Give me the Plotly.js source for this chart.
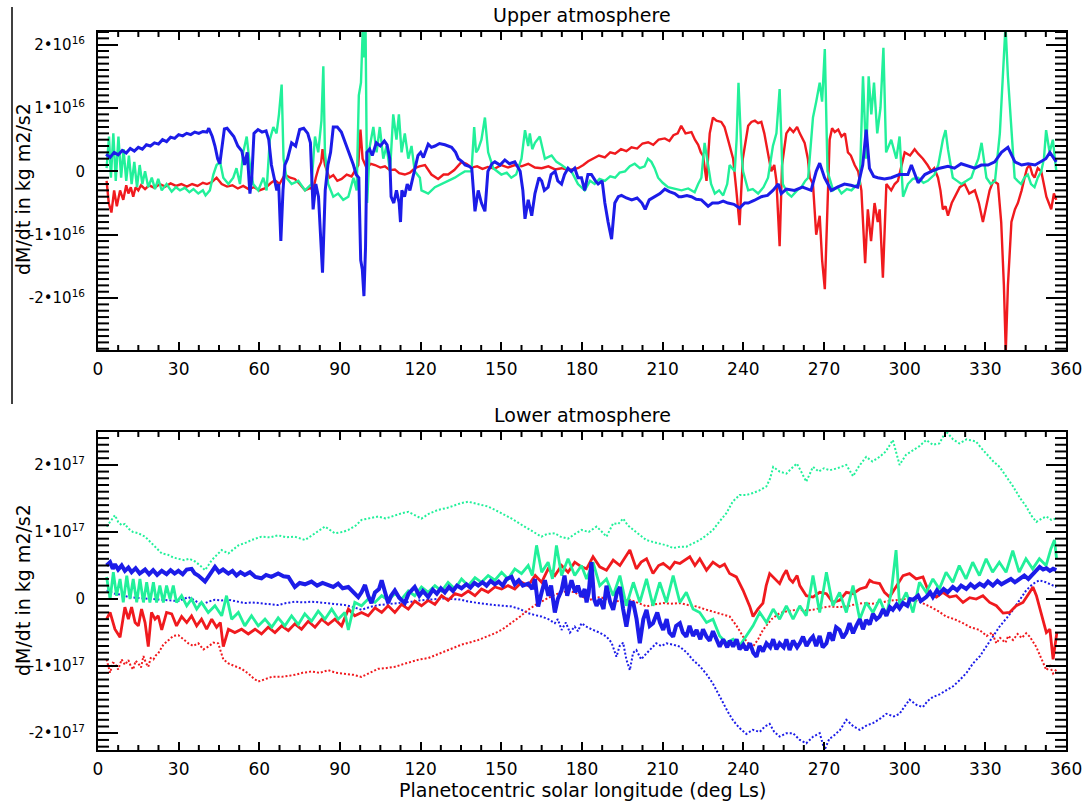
<!DOCTYPE html>
<html><head><meta charset="utf-8">
<script src="https://cdn.plot.ly/plotly-3.0.1.min.js"></script>
<style>html,body{margin:0;padding:0;background:#fff}#chart{width:1084px;height:805px}</style>
</head><body><div id="chart"></div>
<script>
// ---------- axis labels ----------
const lsTicks = [0,30,60,90,120,150,180,210,240,270,300,330,360];
const upperTickVals = [-2,-1,0,1,2];
const upperTickText = ['-2\u202210<sup>16</sup>','-1\u202210<sup>16</sup>','0','1\u202210<sup>16</sup>','2\u202210<sup>16</sup>'];
const lowerTickVals = [-2,-1,0,1,2];
const lowerTickText = ['-2\u202210<sup>17</sup>','-1\u202210<sup>17</sup>','0','1\u202210<sup>17</sup>','2\u202210<sup>17</sup>'];
const upperTitle = 'Upper atmosphere';
const lowerTitle = 'Lower atmosphere';
const yTitle = 'dM/dt in kg m2/s2';
const xTitle = 'Planetocentric solar longitude (deg Ls)';

// ---------- data: [Ls (deg), dM/dt] ; upper in 1e16, lower in 1e17 kg m2/s2 ----------
const upperRed = [[3.2,-0.15],[4,-0.5],[5,-0.65],[6,-0.3],[7,-0.55],[8.2,-0.3],[9.4,-0.45],[10.5,-0.22],[11.3,-0.35],[12.2,-0.25],[13.1,-0.4],[14,-0.25],[15,-0.3],[16,-0.22],[17.5,-0.28],[19,-0.22],[21,-0.26],[23,-0.2],[25,-0.24],[27,-0.19],[29,-0.23],[31,-0.2],[33,-0.24],[35,-0.2],[37,-0.23],[39,-0.18],[40.5,-0.2],[42.3,-0.17],[44.1,-0.1],[46,-0.2],[48,-0.24],[50,-0.22],[52,-0.27],[54,-0.23],[56,-0.28],[58,-0.25],[60,-0.3],[62,-0.27],[64.4,-0.18],[65.8,-0.14],[67.5,-0.2],[69.5,-0.05],[71.5,-0.1],[73.2,-0.12],[75,-0.2],[77,-0.3],[79,-0.26],[80,-0.3],[81,-0.1],[82,0.05],[83,0.15],[83.5,0.35],[84.4,0.1],[86,-0.1],[87.5,-0.06],[89,-0.15],[90.6,-0.12],[92.5,-0.05],[94.3,-0.08],[95.5,0.0],[96.8,0.1],[97.6,0.66],[98.4,0.2],[99.9,0.05],[101.5,0.12],[103,0.1],[105,0.06],[106.7,0.08],[108.5,0.02],[110.4,0.03],[112,-0.03],[114.1,-0.05],[116,-0.02],[117.8,0.05],[119.5,0.08],[121.6,0.1],[124,-0.05],[126.5,-0.12],[128.5,-0.05],[130.2,-0.05],[132.5,0.02],[135.2,0.15],[137,0.12],[138.9,0.06],[141,0.08],[143,0.04],[145,0.07],[147.5,0.04],[150,0.1],[152.5,0.06],[155,0.1],[157.5,0.08],[160,0.12],[162.5,0.06],[165,0.05],[167.5,0.08],[170,0.03],[172.4,0.05],[175,0.02],[178.5,0.05],[180.5,0.1],[182.3,0.16],[184.3,0.2],[186.3,0.25],[188.5,0.22],[190.5,0.3],[192.3,0.28],[194.5,0.35],[196.5,0.32],[198.4,0.38],[200.5,0.36],[202.5,0.44],[204.6,0.46],[206.5,0.42],[208.5,0.5],[210.8,0.52],[212.5,0.48],[214,0.57],[215.6,0.6],[216.9,0.72],[218.5,0.6],[220.7,0.62],[222,0.5],[223.2,0.42],[224.2,0.3],[225,0.25],[226.3,-0.15],[227.5,0.6],[228.7,0.85],[230,0.8],[231.8,0.78],[233,0.7],[234.3,0.5],[235.3,0.35],[236.2,0.2],[237.4,-0.3],[238.6,-0.85],[239.8,0.2],[241.8,0.72],[243,0.78],[244.3,0.8],[245.5,0.76],[246.7,0.78],[247.8,0.6],[248.6,0.4],[249.5,0.2],[250.4,0.0],[251.5,0.1],[252.3,-0.15],[253.5,-1.18],[254.4,0.1],[256,0.6],[257.3,0.68],[258.6,0.62],[260,0.7],[261,0.6],[262.8,0.45],[264,0.2],[264.7,-0.1],[265.9,-0.2],[267.1,-1.0],[268.4,-0.7],[269.3,-1.4],[270.3,-1.86],[271.3,-0.5],[272.1,0.5],[273,0.68],[274,0.62],[275.3,0.66],[276.5,0.55],[277.8,0.6],[278.9,0.3],[280,0.25],[281.4,0.1],[282.7,0.0],[283.9,-0.3],[285.3,-1.45],[286.3,-0.6],[287.5,-1.1],[288.8,-0.5],[290,-0.8],[290.7,-0.6],[291.9,-1.68],[293.2,-0.2],[295,-0.3],[296.3,-0.2],[297.5,-0.15],[299,0.1],[300,0.3],[302,0.25],[303.7,0.35],[305,0.28],[306.8,0.2],[308.5,0.1],[309.9,0.0],[311,0.05],[312.4,-0.1],[313.3,-0.3],[314.2,-0.6],[315.2,-0.55],[316.1,-0.7],[317.5,-0.5],[318.6,-0.4],[320.5,-0.25],[322.3,-0.2],[324,-0.35],[326.1,-0.3],[327.6,-0.5],[329.1,-0.8],[330.5,-0.5],[331.6,-0.3],[333,-0.15],[334.7,-0.2],[335.9,-0.8],[336.9,-1.8],[337.6,-2.85],[338.4,-1.8],[339.7,-0.8],[341,-0.6],[342.1,-0.5],[343.5,-0.3],[344.6,-0.1],[345.5,0.05],[346.5,0.1],[347.5,-0.05],[348.3,-0.1],[349.5,0.05],[350.8,0.0],[351.8,-0.2],[352.7,-0.4],[353.6,-0.5],[354.5,-0.6],[355.5,-0.35],[356.4,-0.45]];

const upperGreen = [[3.2,0.05],[4.1,0.55],[4.8,-0.1],[5.7,0.6],[6.6,-0.15],[7.6,0.55],[8.6,-0.1],[9.5,0.35],[10.5,-0.15],[11.5,0.25],[12.5,-0.2],[13.5,0.15],[14.5,-0.25],[15.5,0.1],[16.5,-0.2],[17.5,0.0],[18.7,-0.25],[20,-0.1],[21.2,-0.28],[22.4,-0.12],[23.7,-0.3],[25.5,-0.2],[27.4,-0.32],[29,-0.25],[30.5,-0.3],[32.3,-0.26],[34,-0.33],[35.5,-0.28],[37.3,-0.35],[39,-0.3],[40,-0.38],[41.6,-0.3],[42.9,-0.05],[44.1,0.1],[45.4,0.15],[46.6,-0.1],[48.5,-0.2],[50.3,-0.1],[51.5,0.05],[52.8,-0.2],[54,0.3],[55.3,0.55],[56.5,0.1],[57.7,-0.2],[59.6,-0.3],[61.5,-0.1],[62.7,-0.3],[63.9,0.5],[65.2,0.7],[66.4,0.6],[67.3,0.9],[68.3,1.37],[69,0.2],[70.1,-0.1],[72,-0.2],[74.5,-0.15],[77,-0.3],[79.4,-0.2],[80.7,0.55],[81.9,0.3],[83.1,0.8],[83.8,1.66],[84.4,0.3],[85.6,-0.2],[87.5,-0.4],[89.3,-0.35],[91.2,-0.45],[93.1,-0.4],[95,-0.1],[96.2,-0.3],[97,1.2],[97.8,1.4],[98.5,2.3],[99,1.8],[99.5,2.3],[100.1,-0.5],[101.1,0.4],[102.4,0.7],[103.6,0.3],[104.8,0.7],[106.1,0.2],[107.3,0.4],[108.6,0.0],[109.8,0.9],[111,0.5],[111.9,0.9],[112.9,0.3],[114.1,0.6],[115.4,0.2],[116.6,0.4],[117.8,0.0],[119.7,-0.1],[120.3,-0.3],[122.8,-0.35],[125.3,-0.25],[127.9,-0.2],[130.3,-0.15],[132.7,-0.1],[134.5,-0.05],[136.4,0.0],[138.9,0.0],[139.9,0.7],[140.6,0.3],[141.4,0.35],[142.6,0.5],[143.9,0.85],[145.1,0.3],[147,0.05],[150,-0.05],[152,-0.02],[153.7,-0.1],[155.5,-0.05],[157.5,0.2],[158.8,0.65],[160,0.4],[160.6,0.6],[161.5,0.35],[162.5,0.45],[164.3,0.55],[166.2,0.2],[168.7,0.25],[170.5,0.15],[172.4,0.1],[174,0.05],[176.1,0.0],[178.5,-0.2],[181,-0.3],[183,-0.15],[184.7,-0.2],[186.5,-0.12],[188.5,-0.15],[190.5,-0.08],[192.3,-0.1],[194,-0.02],[196,0.0],[197.8,0.08],[199.6,0.12],[201.5,0.05],[203.3,0.08],[204.5,0.2],[205.8,0.15],[207,0.05],[208.3,-0.1],[210,-0.18],[212,-0.25],[214.5,-0.28],[217,-0.3],[219.5,-0.27],[221.9,-0.33],[223.2,-0.2],[224.4,-0.1],[225.6,0.45],[226.9,0.1],[228,-0.2],[229.4,-0.35],[231,-0.3],[232.5,-0.38],[234,-0.2],[234.9,0.1],[236.8,0.0],[237.5,0.5],[238.2,1.4],[239.3,0.3],[239.9,0.0],[241.8,-0.3],[243.5,-0.28],[245.5,-0.35],[247.5,-0.25],[249.2,-0.1],[251,0.4],[252.3,0.6],[253.5,1.3],[254.7,-0.2],[256.5,-0.35],[257.9,-0.4],[260,-0.3],[261.6,-0.25],[263,-0.15],[264.1,-0.1],[265.9,0.85],[267.1,1.1],[268.4,1.4],[269.3,1.1],[270.3,1.93],[271.3,0.0],[273.4,-0.3],[275,-0.25],[276.5,-0.35],[278.5,-0.28],[280.2,-0.3],[282,-0.22],[283.3,-0.2],[284.5,1.5],[285.7,0.2],[286.6,1.5],[287.6,0.9],[288.6,1.4],[289.8,0.6],[291,1.0],[292.1,1.95],[293.1,0.3],[295,0.5],[296.9,0.2],[298.1,0.55],[299.4,-0.4],[301.2,-0.2],[303,-0.12],[305,-0.1],[307,-0.18],[308.6,-0.15],[311.1,-0.05],[312.5,0.1],[314.2,0.5],[315.2,0.65],[316.1,0.35],[317.9,-0.1],[319.5,-0.15],[321.1,-0.2],[323,-0.15],[324.8,-0.1],[326,0.05],[327.4,0.2],[328.6,0.45],[330.4,-0.1],[332,-0.2],[333.6,-0.15],[335.4,0.6],[336.6,1.6],[337.5,2.3],[338.4,1.5],[339.4,0.9],[340.9,-0.1],[342,-0.15],[343.3,-0.2],[344.5,-0.1],[345.8,-0.05],[347,-0.2],[348.3,-0.25],[349.5,-0.1],[350.8,0.0],[351.8,0.2],[352.6,0.65],[353.9,0.3],[355.1,0.5],[356.4,0.0]];

const upperBlue = [[3,0.27],[4.5,0.22],[6,0.3],[7.5,0.26],[9,0.33],[10.5,0.29],[12,0.36],[13.5,0.32],[15,0.38],[16.5,0.35],[18,0.42],[19.5,0.4],[21,0.45],[22.5,0.43],[24,0.5],[25.5,0.47],[27,0.54],[28.5,0.52],[30,0.58],[31.5,0.56],[33,0.6],[34.5,0.58],[36,0.62],[37.5,0.6],[39,0.63],[40.5,0.62],[41.2,0.68],[42.5,0.55],[43.5,0.4],[44.5,0.2],[45.3,0.12],[46.2,0.4],[47,0.67],[48,0.68],[49,0.62],[50.5,0.55],[52,0.4],[53.5,0.32],[54.5,0.1],[55.5,0.3],[56.5,-0.35],[57.2,-0.1],[58,0.6],[59.5,0.66],[61,0.62],[62.5,0.64],[63.5,0.5],[64.5,0.1],[65.5,-0.1],[66.5,-0.3],[67.2,-0.2],[68,-1.1],[68.8,-0.3],[69.5,0.1],[70.5,0.2],[72,0.45],[73.5,0.4],[75,0.66],[76.5,0.68],[78,0.6],[79,0.45],[80,-0.6],[81,-0.2],[82,-0.4],[83.5,-1.6],[84.5,-0.3],[85.5,0.1],[86.5,0.3],[87.5,0.7],[89,0.7],[90.5,0.62],[92,0.45],[93.5,0.3],[95,0.1],[96,-0.05],[97,-0.1],[97.7,-1.4],[98.3,-1.55],[98.9,-1.97],[99.5,-1.2],[100,0.3],[101,0.35],[102,0.25],[103.5,0.45],[105,0.4],[106.5,0.48],[107.5,0.42],[108.5,0.2],[109,-0.4],[110,-0.5],[111,-0.3],[112,-0.5],[112.5,-0.8],[113,-0.3],[114,-0.4],[115,-0.2],[116,-0.3],[117,-0.1],[118,0.1],[119,0.25],[120,0.3],[121,0.22],[122.8,0.43],[124,0.38],[125.3,0.4],[127,0.44],[129,0.42],[130.5,0.4],[131.5,0.38],[133,0.3],[134,0.2],[135.5,0.15],[136.5,0.1],[138,0.08],[139,0.05],[140.2,-0.63],[141.4,-0.3],[142.6,-0.5],[143.9,-0.63],[145,0.0],[146.5,0.12],[147.6,0.15],[149.5,0.1],[151.3,0.18],[153,0.12],[155,0.15],[156,0.08],[157,0.0],[158,-0.3],[158.8,-0.75],[160,-0.45],[161.3,-0.7],[162.5,-0.35],[164,-0.1],[165,-0.15],[166,-0.3],[167.4,-0.25],[168.5,-0.05],[170,0.0],[171,-0.15],[172.4,-0.2],[173.5,-0.05],[174.8,0.05],[176,0.0],[177.3,0.05],[178.5,-0.1],[179.8,-0.1],[181,-0.3],[182.2,-0.05],[183.5,-0.05],[185,-0.15],[186,-0.2],[187.5,-0.15],[188.5,-0.5],[189.7,-0.8],[191,-1.07],[192.2,-0.5],[193.5,-0.4],[194.7,-0.38],[196.5,-0.42],[198.5,-0.45],[200.5,-0.42],[202.3,-0.5],[203.5,-0.6],[205,-0.45],[207.2,-0.4],[209,-0.35],[210.8,-0.28],[212.5,-0.32],[214.5,-0.35],[216,-0.4],[217,-0.4],[219,-0.38],[220.7,-0.4],[222.5,-0.44],[224.4,-0.45],[225.5,-0.5],[226.9,-0.55],[228.5,-0.5],[230.6,-0.5],[232.5,-0.47],[234.3,-0.5],[236.5,-0.52],[238.6,-0.58],[240.5,-0.5],[241.8,-0.5],[244,-0.46],[246.7,-0.4],[249,-0.38],[251,-0.3],[253,-0.2],[254.1,-0.35],[256,-0.28],[259,-0.3],[262,-0.25],[265.2,-0.3],[267.1,0.0],[268.4,0.13],[270.2,-0.1],[272.7,-0.3],[275,-0.25],[277.6,-0.2],[280,-0.22],[282.5,-0.25],[284.4,0.1],[285.7,0.66],[286.9,0.05],[288.5,-0.08],[290,-0.1],[292.5,-0.12],[295,-0.1],[298,-0.05],[301.2,-0.05],[302.5,0.1],[305,-0.18],[307.5,-0.05],[309.9,0.0],[313,0.05],[316.1,0.08],[318.5,0.05],[321,0.12],[323.5,0.08],[326.1,0.05],[328.5,0.1],[331,0.1],[333.5,0.15],[336,0.3],[338.4,0.38],[341,0.15],[343.5,0.1],[345.9,0.12],[348.5,0.1],[350.8,0.15],[352.5,0.2],[354,0.3],[356.4,0.15]];

const lowerGreenDot = [[3.2,1.08],[4.5,1.15],[6.3,1.25],[7.5,1.15],[8.8,1.1],[10,1.12],[11.3,1.05],[13,1.0],[15,0.98],[17.5,0.93],[19.5,0.85],[21.2,0.78],[23.7,0.68],[26,0.66],[28,0.62],[29.9,0.6],[32,0.58],[34,0.6],[36.1,0.56],[38,0.5],[39.8,0.43],[41,0.5],[42.3,0.58],[44,0.65],[46,0.73],[48.5,0.68],[50.5,0.75],[52.2,0.8],[55,0.84],[57.1,0.88],[60.8,0.93],[64,0.92],[67,0.95],[70,0.92],[73.2,0.93],[77,0.88],[80.7,0.98],[84.4,1.08],[88.1,0.98],[91,1.0],[93.1,1.03],[96,1.1],[98,1.18],[101,1.2],[104.2,1.23],[107,1.2],[110.4,1.25],[113,1.28],[115.4,1.3],[118,1.25],[120.3,1.2],[123,1.27],[126.5,1.33],[130,1.36],[132.7,1.4],[135,1.43],[137.7,1.45],[140,1.43],[142.6,1.4],[145,1.38],[147.6,1.33],[150.5,1.27],[153.8,1.2],[157,1.12],[160,1.05],[162.5,0.98],[164.9,0.93],[167,0.97],[169.9,0.98],[172,0.93],[174.8,0.9],[177,0.96],[179.8,1.03],[182.5,1.0],[185.4,1.08],[187,1.02],[189.1,0.93],[191.6,1.13],[193.5,1.12],[195.3,1.2],[197,1.1],[199.1,1.03],[201.5,0.95],[203.9,0.88],[206.5,0.85],[208.9,0.83],[211.5,0.8],[213.9,0.76],[216.5,0.78],[218.8,0.78],[221.3,0.83],[223.8,0.88],[226.3,0.95],[228.7,1.03],[231,1.15],[233.7,1.28],[236,1.45],[238.6,1.55],[241,1.55],[243.6,1.58],[246,1.62],[248.6,1.68],[250,1.8],[251.1,1.97],[253.5,1.9],[256,1.87],[258,1.95],[259.9,2.02],[261.5,1.9],[263.4,1.75],[265.9,1.97],[268,1.9],[270,1.95],[272.1,1.92],[275,1.95],[278.3,2.0],[280.8,1.83],[283,1.98],[285.7,2.12],[288,2.05],[290.7,2.12],[293,2.2],[295.6,2.37],[298.1,2.0],[300.5,2.15],[303,2.22],[305.5,2.28],[308,2.37],[310.5,2.3],[312.9,2.32],[315.4,2.5],[318,2.38],[320.3,2.32],[323,2.38],[326.5,2.35],[328.5,2.25],[330.3,2.17],[333,2.05],[335.3,1.97],[338,1.82],[340.3,1.68],[343,1.5],[345.2,1.38],[347,1.25],[349,1.15],[351,1.2],[352.7,1.23],[354.5,1.18],[356.4,1.2]];

const lowerBlueDot = [[3.2,0.13],[6.3,0.08],[9,0.06],[11.3,0.03],[14,0.02],[17.5,0.01],[20.5,0.0],[23.7,-0.01],[27,-0.02],[29.9,-0.03],[33.6,0.03],[36,-0.02],[38.5,-0.09],[41,-0.04],[43.5,-0.01],[46,-0.02],[48.5,-0.01],[51.5,-0.04],[54.6,-0.06],[57.5,-0.05],[60.8,-0.06],[64,-0.07],[67,-0.09],[70,-0.06],[73.2,-0.04],[76.5,-0.05],[79.4,-0.04],[82.5,-0.05],[85.6,-0.06],[88.5,-0.08],[91.8,-0.09],[95,-0.12],[98,-0.16],[101,-0.12],[104.2,-0.09],[107,-0.08],[110.4,-0.06],[113.5,-0.05],[116.6,-0.04],[119.5,-0.02],[122.8,-0.01],[126,0.0],[129,0.01],[132,0.0],[135.2,-0.01],[138,-0.04],[141.4,-0.06],[144.5,-0.08],[147.6,-0.09],[150.5,-0.1],[153.8,-0.11],[157,-0.15],[160,-0.21],[162.5,-0.24],[164.9,-0.26],[167.5,-0.3],[169.9,-0.36],[171,-0.3],[172.4,-0.46],[174,-0.35],[175.5,-0.5],[177.3,-0.41],[178.5,-0.48],[179.8,-0.36],[182,-0.42],[184.1,-0.46],[186.5,-0.5],[189.1,-0.56],[191,-0.65],[192.8,-0.86],[194,-0.7],[195.3,-0.65],[196.5,-0.9],[197.8,-1.06],[199,-0.8],[200.2,-0.76],[202,-0.9],[204,-0.81],[206,-0.72],[207.6,-0.66],[209.5,-0.7],[211.4,-0.66],[214,-0.68],[216.4,-0.71],[219,-0.8],[221.3,-0.91],[223.8,-1.0],[226.3,-1.12],[228.7,-1.26],[230.5,-1.4],[232.5,-1.56],[234.5,-1.7],[236.2,-1.81],[238.5,-1.92],[241.1,-2.01],[243.5,-1.95],[246.1,-1.98],[248,-1.9],[249.8,-1.86],[251.5,-1.98],[253.5,-2.05],[256,-2.0],[258.5,-2.0],[261,-2.1],[263.4,-2.15],[266,-2.05],[268.4,-2.0],[270.2,-2.25],[272,-2.08],[273.3,-2.05],[276,-1.95],[278.3,-1.8],[281,-1.9],[283.3,-1.95],[286,-1.88],[288.2,-1.85],[291,-1.78],[293.2,-1.71],[296,-1.75],[298.1,-1.71],[300,-1.6],[301.8,-1.5],[304.5,-1.58],[306.8,-1.61],[308.5,-1.52],[310.5,-1.46],[313,-1.42],[315.4,-1.36],[318,-1.3],[320.4,-1.21],[323,-1.1],[325.4,-0.96],[328,-0.85],[330.3,-0.71],[333,-0.55],[335.3,-0.41],[338,-0.28],[340.3,-0.16],[343,0.0],[345.2,0.13],[347.5,0.22],[350.1,0.28],[352.5,0.25],[355,0.2],[356.4,0.18]];

const lowerRedDot = [[3.2,-0.9],[4.5,-1.1],[5.5,-0.95],[6.3,-0.96],[7.5,-1.05],[8.8,-0.9],[10,-0.98],[11.3,-0.91],[12.2,-1.0],[13.1,-1.05],[14,-0.92],[15,-0.96],[16,-1.02],[16.9,-0.85],[17.8,-0.95],[18.7,-1.01],[19.6,-0.88],[20.6,-0.9],[21.5,-0.84],[22.4,-0.81],[24.3,-0.68],[26.2,-0.61],[28,-0.55],[29.9,-0.54],[31.7,-0.6],[33.6,-0.66],[35.4,-0.7],[37.3,-0.66],[39.2,-0.75],[41,-0.71],[42.9,-0.65],[44.7,-0.66],[46.6,-0.9],[48.5,-0.96],[50.9,-1.0],[53.4,-1.04],[55.9,-1.11],[57.8,-1.18],[59.6,-1.23],[62.1,-1.2],[64.6,-1.16],[68.3,-1.16],[73.2,-1.13],[76,-1.1],[79.4,-1.08],[82.5,-1.1],[85.6,-1.06],[88.5,-1.1],[91.8,-1.11],[95,-1.13],[98,-1.16],[101,-1.1],[104.2,-1.04],[107,-1.03],[110.4,-1.01],[113.5,-0.97],[116.6,-0.93],[119.5,-0.9],[122.8,-0.88],[126,-0.83],[129,-0.78],[132,-0.73],[135.2,-0.68],[138,-0.65],[141.4,-0.61],[144.5,-0.56],[147.6,-0.51],[150.5,-0.45],[153.8,-0.36],[157,-0.26],[160,-0.16],[163,-0.08],[166.2,-0.01],[169,0.05],[172.4,0.1],[175,0.12],[177.3,0.1],[179.2,0.05],[182.9,-0.01],[186.6,0.03],[189,0.0],[191.6,-0.04],[195,-0.02],[197.8,-0.01],[201,-0.06],[204,-0.11],[207,-0.08],[210.2,-0.06],[213,-0.07],[216.4,-0.06],[219.5,-0.09],[222.6,-0.11],[225.5,-0.15],[228.7,-0.19],[231.5,-0.22],[234.9,-0.26],[237.5,-0.4],[239.9,-0.56],[241.8,-0.66],[243.6,-0.71],[245.5,-0.6],[247.3,-0.46],[250.5,-0.3],[253.5,-0.21],[256.5,-0.18],[259.9,-0.16],[263,-0.17],[265.9,-0.16],[269,-0.13],[272.1,-0.11],[275,-0.12],[278.3,-0.11],[281.5,-0.08],[284.5,-0.06],[287.5,-0.07],[290.7,-0.06],[293.7,-0.03],[296.8,-0.01],[300,0.0],[303.1,-0.01],[306,-0.05],[309.3,-0.11],[312.5,-0.18],[315.4,-0.26],[318.5,-0.3],[321.7,-0.36],[324.5,-0.42],[327.8,-0.46],[330.5,-0.55],[332.5,-0.5],[334.1,-0.66],[335.5,-0.58],[337.5,-0.65],[338.5,-0.55],[340.3,-0.61],[342,-0.52],[343.5,-0.58],[345.2,-0.51],[346.5,-0.56],[348.9,-0.71],[350.5,-0.85],[352.7,-1.06],[354,-1.0],[355.2,-1.11],[356.4,-1.05]];

const lowerRed = [[3.2,-0.3],[4.5,-0.2],[6.3,-0.45],[8.2,-0.57],[10,-0.12],[11.3,-0.3],[12.5,-0.12],[13.8,-0.35],[15,-0.4],[16.2,-0.15],[17.5,-0.35],[18.7,-0.71],[19.9,-0.2],[21.2,-0.3],[22.4,-0.25],[23.7,-0.46],[25.5,-0.2],[27.4,-0.22],[29.2,-0.4],[31.1,-0.26],[33,-0.35],[34.8,-0.25],[36.7,-0.4],[38.5,-0.3],[40.4,-0.45],[42.3,-0.3],[44.1,-0.42],[45.5,-0.35],[46.6,-0.71],[48.5,-0.45],[50.9,-0.5],[53.4,-0.45],[55.9,-0.52],[58.4,-0.45],[60.8,-0.52],[63.3,-0.42],[65.8,-0.5],[68.3,-0.4],[70.8,-0.47],[73.2,-0.37],[75.7,-0.45],[78.2,-0.33],[80.7,-0.42],[83.2,-0.3],[85.6,-0.38],[88.1,-0.3],[90.6,-0.4],[93.1,-0.15],[95.5,-0.25],[98,-0.2],[100.5,-0.25],[103,-0.13],[105.5,-0.2],[107.9,-0.1],[110.4,-0.2],[112.9,-0.08],[115.4,-0.15],[117.8,-0.03],[120.3,-0.1],[122.8,-0.02],[125.3,-0.08],[127.8,0.05],[130.2,-0.02],[132.7,0.08],[135.2,0.05],[137.7,0.12],[140.2,0.05],[142.6,0.15],[145.1,0.1],[147.6,0.18],[150.1,0.15],[152.5,0.2],[155,0.15],[157.5,0.25],[160,0.2],[162.6,0.35],[165,0.25],[167.4,0.45],[169.9,0.35],[172.4,0.5],[174.8,0.4],[177.3,0.55],[179.8,0.48],[181.7,0.45],[184.1,0.63],[186.6,0.48],[189.1,0.43],[191.6,0.58],[194.1,0.5],[195.5,0.58],[197.8,0.73],[200.2,0.45],[202,0.55],[204,0.6],[206.4,0.38],[208.5,0.5],[210.2,0.53],[212.7,0.45],[214.5,0.55],[216.4,0.53],[218.5,0.58],[220.1,0.63],[222,0.5],[223.8,0.6],[226.3,0.43],[228.7,0.55],[231.2,0.48],[233,0.52],[234.9,0.38],[237.4,0.33],[239.9,0.13],[241.2,0.0],[242.4,-0.11],[243.6,-0.26],[245.4,-0.15],[247.3,-0.06],[248.5,0.2],[249.8,0.38],[251.6,0.3],[253.5,0.23],[254.8,0.35],[256,0.43],[257.2,0.3],[258.4,0.25],[260,0.35],[261,0.2],[263.4,0.05],[265.9,0.03],[268.4,0.1],[270.9,0.08],[273.3,-0.05],[275.8,-0.02],[278.3,0.1],[280.8,0.08],[283.3,0.15],[285.7,0.18],[287,0.28],[288.2,0.25],[290.7,0.23],[292.5,0.1],[294.4,0.03],[296.8,0.18],[299.4,0.35],[301.8,0.38],[304.3,0.3],[306.8,0.33],[308,0.2],[309.2,0.08],[311.8,0.03],[314.2,0.1],[316.7,0.03],[319.2,0.05],[321.7,-0.05],[324.2,0.02],[326.6,0.0],[329.1,0.05],[331.6,-0.05],[334.1,-0.1],[336.6,-0.21],[339,-0.2],[341.5,-0.1],[344,-0.05],[346.5,0.1],[347.7,0.18],[349,0.05],[350.8,-0.2],[352.7,-0.5],[354,-0.45],[355.2,-0.9],[356.6,-0.5]];

const lowerGreen = [[3.2,0.33],[4.5,0.0],[5.7,0.4],[6.9,0.05],[8.2,0.3],[9.4,-0.05],[10.7,0.35],[11.9,0.0],[13.1,0.3],[14.4,-0.05],[15.6,0.3],[16.9,-0.05],[18.1,0.25],[19.3,-0.05],[20.6,0.25],[21.8,-0.05],[23,0.2],[24.3,-0.05],[25.5,0.2],[26.8,0.0],[28,0.2],[29.2,-0.05],[31.1,0.05],[33,-0.1],[34.8,0.0],[36.7,-0.15],[38.5,-0.05],[41,-0.2],[43.5,-0.1],[46,-0.25],[47.8,0.05],[49.7,-0.3],[52.2,-0.2],[54.6,-0.4],[57.1,-0.25],[59.6,-0.4],[62.1,-0.3],[64.6,-0.42],[67,-0.28],[69.5,-0.4],[72,-0.25],[74.5,-0.38],[76.9,-0.22],[79.4,-0.33],[81.9,-0.18],[84.4,-0.3],[86.9,-0.15],[89.3,-0.3],[91.8,-0.2],[93.1,-0.46],[95.5,-0.05],[98,-0.1],[100.5,0.0],[103,-0.05],[105.5,0.05],[107.9,-0.02],[110.4,0.08],[112.9,0.0],[115.4,0.12],[117.8,0.05],[120.3,0.18],[122.8,0.1],[125.3,0.2],[127.8,0.12],[130.2,0.25],[132.7,0.15],[135.2,0.3],[137.7,0.2],[140.2,0.32],[142.6,0.25],[145.1,0.35],[147.6,0.28],[150.1,0.4],[152.5,0.3],[155,0.45],[157.5,0.38],[160,0.5],[161.5,0.35],[163.1,0.8],[165,0.4],[167.4,0.55],[169,0.3],[170.5,0.8],[172.4,0.35],[174.8,0.6],[177.3,0.35],[179.8,0.5],[181.7,0.3],[184.1,0.55],[186.6,0.2],[189.1,0.3],[191.6,0.05],[194.1,0.35],[196.5,-0.1],[199.1,0.25],[201.5,-0.05],[204,0.3],[206.4,-0.1],[208.9,0.25],[211.4,-0.05],[213.9,0.35],[216.4,-0.05],[218.8,0.1],[221.3,-0.15],[223.8,-0.2],[226.3,-0.35],[228.7,-0.3],[231.2,-0.55],[233.7,-0.65],[236.2,-0.6],[238.6,-0.7],[241.1,-0.55],[243.6,-0.4],[246.1,-0.2],[248.6,-0.35],[251.1,-0.15],[253.5,-0.3],[256,-0.1],[258.5,-0.3],[261,-0.1],[263.4,-0.25],[265.9,0.35],[268.4,-0.2],[270.9,0.4],[273.3,-0.1],[275.8,0.1],[278.3,-0.2],[280.8,0.2],[283.3,-0.3],[285.7,-0.05],[288.2,-0.2],[290.7,0.0],[293.2,-0.25],[295,0.1],[296.8,0.73],[298.1,-0.1],[300.6,0.1],[303.1,-0.2],[305.5,0.25],[308,0.1],[310.5,0.3],[312.9,0.15],[315.4,0.4],[317.9,0.25],[320.3,0.5],[322.8,0.3],[325.3,0.55],[327.8,0.35],[330.3,0.6],[332.7,0.4],[335.2,0.55],[337.7,0.4],[340.2,0.72],[342.6,0.4],[345.1,0.6],[347.6,0.45],[350.1,0.6],[352.6,0.5],[354.4,0.75],[355.7,0.88],[356.5,0.6]];

const lowerBlue = [[3.2,0.5],[4.5,0.55],[5.5,0.45],[6.3,0.52],[7.5,0.44],[8.8,0.5],[10,0.42],[11.3,0.47],[12.5,0.4],[14,0.46],[15.5,0.38],[17.5,0.44],[19,0.37],[20.5,0.43],[22,0.36],[23.7,0.42],[25.5,0.37],[27,0.43],[28.5,0.38],[29.9,0.42],[31.5,0.37],[33,0.44],[34.8,0.45],[36,0.38],[37.3,0.35],[38.5,0.3],[39.8,0.26],[41,0.33],[42.3,0.4],[43.5,0.48],[45,0.4],[46.5,0.44],[48.5,0.38],[50,0.42],[51.5,0.35],[53,0.4],[54.6,0.36],[56.5,0.4],[58.5,0.33],[60.8,0.31],[62.5,0.36],[64.5,0.33],[67,0.38],[69,0.34],[70.8,0.33],[72,0.25],[73.2,0.18],[75,0.24],[77,0.22],[79.4,0.26],[81.5,0.2],[83.5,0.24],[85.6,0.21],[87.5,0.18],[89.3,0.23],[91,0.16],[93.1,0.18],[95,0.1],[96.8,0.03],[98,0.1],[99.3,0.21],[100.5,0.05],[101.7,-0.06],[103,0.1],[104.5,0.15],[105.5,0.28],[106.7,0.1],[107.9,-0.06],[109,0.05],[110.4,0.13],[112,0.02],[114.1,-0.06],[115.5,0.08],[117.8,0.18],[119.5,0.05],[120.8,0.12],[122.8,0.03],[124.5,0.14],[126,0.08],[127.5,0.16],[129,0.1],[130.5,0.18],[132,0.12],[133.5,0.2],[135.2,0.16],[137,0.22],[138.5,0.17],[140,0.24],[141.4,0.2],[143,0.25],[144.5,0.2],[146,0.27],[147.6,0.22],[149,0.26],[150.5,0.2],[152,0.3],[153.8,0.33],[155,0.22],[156.5,0.28],[158,0.2],[160,0.23],[161.5,0.15],[162.5,0.3],[163.7,-0.11],[165,0.1],[166.2,0.28],[167.5,0.05],[168.5,0.2],[169.9,-0.2],[171,0.0],[172.4,0.13],[173.5,0.35],[174.5,0.05],[176.1,0.28],[177.5,0.1],[178.5,0.2],[179.8,0.03],[181,0.15],[181.7,-0.05],[182.5,0.1],[183.5,0.55],[184.5,0.0],[185.4,-0.1],[186.6,0.0],[188,-0.15],[189.1,0.2],[190.5,-0.05],[191.6,-0.16],[193,0.1],[194.1,0.18],[195.3,-0.15],[196.5,-0.41],[198,-0.05],[199.1,-0.06],[200.3,-0.3],[201.5,-0.66],[202.8,-0.3],[204,-0.16],[205.2,-0.4],[206.4,-0.36],[208,-0.2],[209,-0.35],[210.2,-0.46],[211.5,-0.3],[212.5,-0.5],[213.9,-0.56],[215,-0.4],[216.4,-0.36],[217.5,-0.5],[218.8,-0.56],[220,-0.4],[221.3,-0.55],[222.6,-0.46],[224,-0.6],[225,-0.45],[226.3,-0.56],[227.5,-0.62],[228.7,-0.48],[230,-0.6],[231.2,-0.71],[232.5,-0.6],[234,-0.72],[235,-0.62],[236.2,-0.71],[237.5,-0.6],[238.6,-0.75],[240,-0.68],[241.1,-0.76],[242.5,-0.66],[243.7,-0.8],[244.9,-0.86],[246,-0.7],[247.3,-0.78],[248.6,-0.66],[250,-0.72],[251.1,-0.6],[252.3,-0.75],[253.5,-0.66],[255,-0.72],[256,-0.6],[257.2,-0.76],[258.5,-0.62],[260,-0.72],[261,-0.66],[262.2,-0.56],[263.5,-0.7],[265,-0.6],[265.9,-0.56],[267.1,-0.7],[268.4,-0.55],[269.5,-0.72],[270.9,-0.66],[272,-0.5],[273.3,-0.62],[274.5,-0.42],[275.8,-0.46],[277,-0.58],[278.3,-0.5],[279.5,-0.36],[280.8,-0.51],[282,-0.4],[283.3,-0.3],[284.5,-0.45],[285.7,-0.31],[287,-0.38],[288.2,-0.22],[289.5,-0.3],[290.7,-0.26],[292,-0.15],[293.2,-0.25],[294.5,-0.12],[295.6,-0.16],[297,-0.08],[298.1,-0.14],[299.4,-0.06],[301,-0.1],[302,0.0],[303.1,-0.01],[305,0.05],[306,-0.03],[308,0.03],[309.5,0.1],[310.5,0.03],[312,0.13],[312.9,0.08],[314.5,0.15],[316,0.1],[317.9,0.18],[319.5,0.13],[321,0.2],[322.9,0.15],[324.5,0.22],[326,0.17],[327.9,0.23],[329.5,0.19],[331,0.26],[332.8,0.2],[334.5,0.27],[336,0.22],[337.8,0.26],[339.5,0.3],[341,0.25],[342.8,0.31],[344.5,0.35],[346,0.3],[347.7,0.38],[349,0.42],[350.2,0.48],[351.5,0.44],[352.7,0.46],[354,0.42],[355.2,0.45],[356.4,0.43]];

// ---------- styling ----------
const RED = '#f01a1e', GREEN = '#22f09a', BLUE = '#1c1ce8';
const FONT = 'DejaVu Sans, Liberation Sans, sans-serif';
const UPPER_RANGE = [-2.82, 2.2], LOWER_RANGE = [-2.25, 2.49], LS_RANGE = [0, 360];

function line(pairs, color, xa, ya, dash, width) {
  return {
    type: 'scatter', mode: 'lines', xaxis: xa, yaxis: ya,
    x: pairs.map(p => p[0]), y: pairs.map(p => p[1]),
    line: {color: color, width: width, dash: dash || 'solid'},
    hoverinfo: 'skip', showlegend: false
  };
}

const traces = [
  line(upperRed, RED, 'x', 'y', 'solid', 2.4),
  line(upperGreen, GREEN, 'x', 'y', 'solid', 2.4),
  line(upperBlue, BLUE, 'x', 'y', 'solid', 3),
  line(lowerGreenDot, GREEN, 'x2', 'y2', '2px,2px', 2),
  line(lowerBlueDot, BLUE, 'x2', 'y2', '2px,2px', 2),
  line(lowerRedDot, RED, 'x2', 'y2', '2px,2px', 2),
  line(lowerRed, RED, 'x2', 'y2', 'solid', 2.8),
  line(lowerGreen, GREEN, 'x2', 'y2', 'solid', 2.8),
  line(lowerBlue, BLUE, 'x2', 'y2', 'solid', 4)
];

const common = {showline: true, linewidth: 2, linecolor: '#000', mirror: 'ticks', showgrid: false, zeroline: false,
  tickwidth: 2, tickcolor: '#000', ticks: 'inside', autorange: false};
function xAxis(anchor) {
  return Object.assign({}, common, {anchor: anchor, domain: [0, 1], range: LS_RANGE,
    tickmode: 'array', tickvals: lsTicks, ticktext: lsTicks.map(String), ticklen: 8,
    ticklabelstandoff: 3, tickfont: {family: FONT, size: 17, color: '#000'}});
}
function yAxis(anchor, domain, range, vals, text) {
  return Object.assign({}, common, {anchor: anchor, domain: domain, range: range,
    tickmode: 'array', tickvals: vals, ticktext: text, ticklen: 20,
    ticklabelstandoff: 8, tickfont: {family: FONT, size: 15, color: '#000'}});
}

const H = 718, W = 968;              // plot-area size in px
const py = p => (750 - p) / H;       // pixel row -> paper y
const px = p => (p - 98) / W;        // pixel column -> paper x
const UPPER_DOMAIN = [py(350), 1], LOWER_DOMAIN = [0, py(432)];

// minor tick marks (axis furniture), placed through the axis range -> paper mapping
function steps(a, b, s) { const o = []; for (let v = a; v <= b + 1e-9; v += s) o.push(Math.round(v * 1000) / 1000); return o; }
const minorShapes = [];
function addMinor(domain, range) {
  const toY = v => domain[0] + (v - range[0]) / (range[1] - range[0]) * (domain[1] - domain[0]);
  const toX = v => (v - LS_RANGE[0]) / (LS_RANGE[1] - LS_RANGE[0]);
  const hx = 5 / H, wy = 11 / W;
  steps(7.5, 352.5, 7.5).filter(v => v % 30 !== 0).forEach(v => {
    const xx = toX(v);
    minorShapes.push({type: 'line', xref: 'paper', yref: 'paper', x0: xx, x1: xx, y0: domain[0], y1: domain[0] + hx, line: {color: '#000', width: 2}});
    minorShapes.push({type: 'line', xref: 'paper', yref: 'paper', x0: xx, x1: xx, y0: domain[1], y1: domain[1] - hx, line: {color: '#000', width: 2}});
  });
  steps(Math.ceil(range[0] * 10) / 10, Math.floor(range[1] * 10) / 10, 0.1)
    .filter(v => Math.abs(v - Math.round(v)) > 1e-6).forEach(v => {
    const yy = toY(v);
    minorShapes.push({type: 'line', xref: 'paper', yref: 'paper', x0: 0, x1: wy, y0: yy, y1: yy, line: {color: '#000', width: 2}});
    minorShapes.push({type: 'line', xref: 'paper', yref: 'paper', x0: 1, x1: 1 - wy, y0: yy, y1: yy, line: {color: '#000', width: 2}});
  });
}
addMinor(UPPER_DOMAIN, UPPER_RANGE);
addMinor(LOWER_DOMAIN, LOWER_RANGE);

const layout = {
  width: 1084, height: 805,
  margin: {l: 98, r: 18, t: 32, b: 55},
  paper_bgcolor: '#fff', plot_bgcolor: '#fff',
  showlegend: false,
  font: {family: FONT, size: 17, color: '#000'},
  xaxis: xAxis('y'),
  yaxis: yAxis('x', UPPER_DOMAIN, UPPER_RANGE, upperTickVals, upperTickText),
  xaxis2: xAxis('y2'),
  yaxis2: yAxis('x2', LOWER_DOMAIN, LOWER_RANGE, lowerTickVals, lowerTickText),
  annotations: [
    {text: upperTitle, xref: 'paper', yref: 'paper', x: 0.5, y: py(15), xanchor: 'center', yanchor: 'middle', showarrow: false, font: {family: FONT, size: 19}},
    {text: lowerTitle, xref: 'paper', yref: 'paper', x: 0.5, y: py(415), xanchor: 'center', yanchor: 'middle', showarrow: false, font: {family: FONT, size: 19}},
    {text: xTitle, xref: 'paper', yref: 'paper', x: 0.5, y: py(790), xanchor: 'center', yanchor: 'middle', showarrow: false, font: {family: FONT, size: 19}},
    {text: yTitle, xref: 'paper', yref: 'paper', x: px(23), y: py(189), xanchor: 'center', yanchor: 'middle', textangle: -90, showarrow: false, font: {family: FONT, size: 19}},
    {text: yTitle, xref: 'paper', yref: 'paper', x: px(23), y: py(590), xanchor: 'center', yanchor: 'middle', textangle: -90, showarrow: false, font: {family: FONT, size: 19}}
  ],
  shapes: [
    {type: 'line', xref: 'paper', yref: 'paper', x0: px(12), x1: px(12), y0: py(404), y1: py(7), line: {color: '#000', width: 1.5}}
  ].concat(minorShapes)
};

Plotly.newPlot('chart', traces, layout, {displayModeBar: false, staticPlot: true});
</script>
</body></html>
